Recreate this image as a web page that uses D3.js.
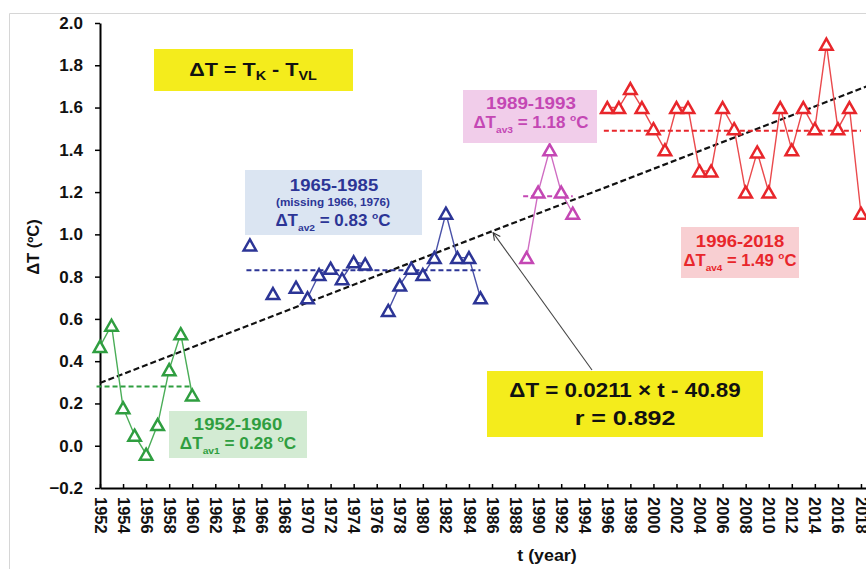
<!DOCTYPE html>
<html>
<head>
<meta charset="utf-8">
<script src="https://cdn.jsdelivr.net/npm/d3@7"></script>
<style>
  body { margin: 0; background: #fff; }
  svg { display: block; }
  text { font-family: Arial, "Liberation Sans", sans-serif; font-weight: bold; }
</style>
</head>
<body>
<svg id="chart" width="866" height="569"></svg>
<script>
// Temperature difference ΔT = T_K - T_VL by year, four measurement periods
const greenYears  = [1952, 1953, 1954, 1955, 1956, 1957, 1958, 1959, 1960];
const greenValues = [0.47, 0.57, 0.18, 0.05, -0.04, 0.10, 0.36, 0.53, 0.24];

const blueYears  = [1965, 1967, 1969, 1970, 1971, 1972, 1973, 1974, 1975,
                    1977, 1978, 1979, 1980, 1981, 1982, 1983, 1984, 1985];
const blueValues = [0.95, 0.72, 0.75, 0.70, 0.81, 0.84, 0.79, 0.87, 0.86,
                    0.64, 0.76, 0.84, 0.81, 0.89, 1.10, 0.89, 0.89, 0.70];
// the connecting line starts again after these years
const blueBreaks = [1965, 1967, 1969, 1975];

const magentaYears  = [1989, 1990, 1991, 1992, 1993];
const magentaValues = [0.89, 1.20, 1.40, 1.20, 1.10];

const redYears  = [1996, 1997, 1998, 1999, 2000, 2001, 2002, 2003, 2004, 2005, 2006, 2007,
                   2008, 2009, 2010, 2011, 2012, 2013, 2014, 2015, 2016, 2017, 2018];
const redValues = [1.60, 1.60, 1.69, 1.60, 1.50, 1.40, 1.60, 1.60, 1.30, 1.30, 1.60, 1.50,
                   1.20, 1.39, 1.20, 1.60, 1.40, 1.60, 1.50, 1.90, 1.50, 1.60, 1.10];

const periodLabels = ["1952-1960", "1965-1985", "1989-1993", "1996-2018"];
const periodAverages = [0.28, 0.83, 1.18, 1.49];
const avgNames = ["av1", "av2", "av3", "av4"];

const trendSlope = 0.0211;
const trendIntercept = -40.89;
const trendR = 0.892;

const yTicks = [-0.2, 0.0, 0.2, 0.4, 0.6, 0.8, 1.0, 1.2, 1.4, 1.6, 1.8, 2.0];
const xTicks = d3.range(1952, 2019, 2);

const svg = d3.select("#chart");

// outer frame
svg.append("path").attr("d", "M9.5,569 V13.5 H866")
  .attr("fill", "none").attr("stroke", "#d6d6d6").attr("stroke-width", 1);

const x = d3.scaleLinear().domain([1952, 2019]).range([100, 872.5]);
const y = d3.scaleLinear().domain([-0.2, 2.0]).range([488, 23]);

// axes
const yAxis = svg.append("g").attr("transform", "translate(100,0)")
  .call(d3.axisLeft(y).tickValues(yTicks).tickFormat(d3.format(".1f"))
    .tickSizeInner(5).tickSizeOuter(0).tickPadding(12));
yAxis.select(".domain").attr("stroke", "#000").attr("stroke-width", 2);
yAxis.selectAll(".tick line").attr("stroke", "#000").attr("stroke-width", 1.5);
yAxis.selectAll(".tick text").attr("font-size", 17).attr("fill", "#111")
  .style("font-family", "Arial, 'Liberation Sans', sans-serif").style("font-weight", "bold");

const xAxis = svg.append("g").attr("transform", "translate(0,488)")
  .call(d3.axisBottom(x).tickValues(xTicks).tickFormat(d3.format("d"))
    .tickSizeInner(-4).tickSizeOuter(0));
xAxis.select(".domain").attr("stroke", "#000").attr("stroke-width", 2);
xAxis.selectAll(".tick line").attr("stroke", "#000").attr("stroke-width", 1.5);
xAxis.selectAll(".tick text")
  .attr("font-size", 16.5).attr("fill", "#111")
  .style("font-family", "Arial, 'Liberation Sans', sans-serif").style("font-weight", "bold")
  .attr("text-anchor", "start")
  .attr("transform", "rotate(90)")
  .attr("x", 9).attr("y", 0).attr("dy", "0.36em");

// text horizontally stretched about its anchor
function stext(tx, ty, size, fill, sx) {
  return svg.append("text")
    .attr("transform", `translate(${tx},${ty}) scale(${sx},1)`)
    .attr("text-anchor", "middle").attr("font-size", size).attr("fill", fill);
}

// axis titles
svg.append("text").attr("transform", "translate(39,247) rotate(-90)")
  .attr("text-anchor", "middle").attr("font-size", 16.5).attr("fill", "#111")
  .text("ΔT (ºC)");
stext(547, 561, 17, "#111", 1.05).text("t (year)");

// regression line over the whole period
svg.append("line")
  .attr("x1", x(1952)).attr("y1", y(trendSlope * 1952 + trendIntercept))
  .attr("x2", x(2019)).attr("y2", y(trendSlope * 2019 + trendIntercept))
  .attr("stroke", "#111").attr("stroke-width", 2.2).attr("stroke-dasharray", "6,3");

// triangle marker centred on its bounding box
function triangle(w, h) {
  return `M0,${-h / 2} L${w / 2},${h / 2} L${-w / 2},${h / 2} Z`;
}

const series = [
  { years: greenYears, values: greenValues, color: "#2f9e40", line: "#4aad57", breaks: [] },
  { years: blueYears, values: blueValues, color: "#2c3596", line: "#4a52a8", breaks: blueBreaks },
  { years: magentaYears, values: magentaValues, color: "#c447b4", line: "#cf6cc2", breaks: [] },
  { years: redYears, values: redValues, color: "#e8262b", line: "#ea4a4d", breaks: [] }
];

series.forEach((s, i) => {
  const pts = s.years.map((yr, k) => ({ year: yr, value: s.values[k] }));
  // runs of consecutive years form one polyline
  const runs = [];
  let cur = [];
  pts.forEach((p, k) => {
    if (k > 0) {
      const prev = pts[k - 1];
      if (p.year - prev.year !== 1 || s.breaks.includes(prev.year)) {
        runs.push(cur); cur = [];
      }
    }
    cur.push(p);
  });
  runs.push(cur);

  const line = d3.line().x(d => x(d.year)).y(d => y(d.value));
  svg.append("g").selectAll("path").data(runs.filter(r => r.length > 1)).join("path")
    .attr("d", line).attr("fill", "none")
    .attr("stroke", s.line).attr("stroke-width", 1.4);

  // period average
  const first = s.years[0], last = s.years[s.years.length - 1];
  svg.append("line")
    .attr("x1", x(first - 0.3)).attr("x2", x(last))
    .attr("y1", y(periodAverages[i])).attr("y2", y(periodAverages[i]))
    .attr("stroke", s.color).attr("stroke-width", 2).attr("stroke-dasharray", "5,3");

  svg.append("g").selectAll("path").data(pts).join("path")
    .attr("transform", d => `translate(${x(d.year)},${y(d.value)})`)
    .attr("d", triangle(12.5, 11))
    .attr("fill", "#fff").attr("stroke", s.color).attr("stroke-width", 2.5)
    .attr("stroke-linejoin", "miter");
});

// ΔT_avN = value ºC
function avgLine(sel, i, size) {
  sel.append("tspan").text("ΔT");
  sel.append("tspan").attr("font-size", size * 0.6).attr("dy", size * 0.28).text(avgNames[i]);
  sel.append("tspan").attr("dy", -size * 0.28).text(" = " + periodAverages[i].toFixed(2) + " ");
  sel.append("tspan").attr("font-size", size * 0.6).attr("dy", -size * 0.4).text("o");
  sel.append("tspan").attr("dy", size * 0.4).text("C");
}

function infoBox(bx, by, bw, bh, fill) {
  svg.append("rect").attr("x", bx).attr("y", by).attr("width", bw).attr("height", bh).attr("fill", fill);
}

// period boxes
infoBox(169, 411, 138, 47, "#d3ebd3");
stext(238, 430, 16.5, "#2f9e40", 1.12).text(periodLabels[0]);
avgLine(stext(238, 449, 16.5, "#2f9e40", 1.04), 0, 16.5);

infoBox(245, 170, 177, 65, "#dbe5f2");
stext(334, 191, 16.5, "#2c3596", 1.12).text(periodLabels[1]);
stext(333, 206, 11.5, "#2c3596", 1.02).text("(missing 1966, 1976)");
avgLine(stext(333, 226, 16.5, "#2c3596", 1.03), 1, 16.5);

infoBox(463, 90, 134, 53, "#f1cdea");
stext(531, 109, 16.5, "#c447b4", 1.14).text(periodLabels[2]);
avgLine(stext(531, 128, 16.5, "#c447b4", 1.03), 2, 16.5);

infoBox(681, 227, 118, 51, "#f8cfd2");
stext(740, 247, 16.5, "#e8262b", 1.12).text(periodLabels[3]);
avgLine(stext(740, 266, 16.5, "#e8262b", 1.01), 3, 16.5);

// definition box
infoBox(154, 49, 199, 42, "#f4ec1c");
const def = stext(253, 76, 18, "#111", 1.2);
def.append("tspan").text("ΔT = T");
def.append("tspan").attr("font-size", 12).attr("dy", 4).text("K");
def.append("tspan").attr("dy", -4).text(" - T");
def.append("tspan").attr("font-size", 12).attr("dy", 4).text("VL");

// regression box with arrow to the trend line
infoBox(487, 371, 276, 66, "#f4ec1c");
stext(625, 397, 20, "#111", 1.12)
  .text(`ΔT = ${trendSlope} \u00D7 t - ${Math.abs(trendIntercept)}`);
stext(625, 425, 20, "#111", 1.25).text(`r = ${trendR}`);

svg.append("defs").append("marker").attr("id", "arrowOpen")
  .attr("viewBox", "0 0 10 10").attr("refX", 9).attr("refY", 5)
  .attr("markerWidth", 9).attr("markerHeight", 9).attr("orient", "auto")
  .attr("markerUnits", "userSpaceOnUse")
  .append("path").attr("d", "M1,1 L9,5 L1,9").attr("fill", "none")
  .attr("stroke", "#333").attr("stroke-width", 1.2);

const arrowYear = 1986.1;
svg.append("line")
  .attr("x1", 592).attr("y1", 370)
  .attr("x2", x(arrowYear)).attr("y2", y(trendSlope * arrowYear + trendIntercept) + 2)
  .attr("stroke", "#444").attr("stroke-width", 1.1)
  .attr("marker-end", "url(#arrowOpen)");
</script>
</body>
</html>
